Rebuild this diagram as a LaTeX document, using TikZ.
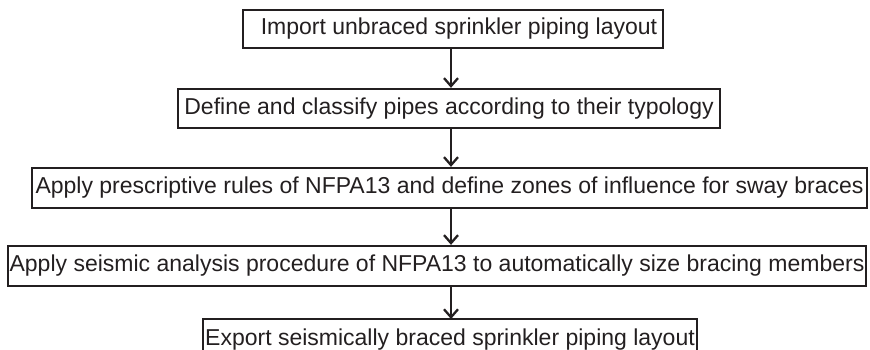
\documentclass[tikz,border=0pt]{standalone}
\usepackage{fontspec}
\setmainfont{Liberation Sans}
\usetikzlibrary{arrows.meta}
\definecolor{ink}{HTML}{231F20}
\begin{document}
\begin{tikzpicture}[x=1pt,y=-1pt,
  stepbox/.style={draw=ink,line width=2.3pt,rectangle,inner sep=0pt,text=ink,
    font=\fontsize{23}{27}\selectfont},
  flow/.style={draw=ink,line width=2.3pt,-{Straight Barb[length=8pt,width=14pt,line width=2.3pt]}}]
\clip (0,0) rectangle (870,350);
\node[stepbox,minimum width=420pt,minimum height=38pt] (b1) at (453,29) {\hspace{12pt}Import unbraced sprinkler piping layout};
\node[stepbox,minimum width=542pt,minimum height=39pt] (b2) at (449,108.5) {Define and classify pipes according to their typology};
\node[stepbox,minimum width=835pt,minimum height=40pt] (b3) at (449.5,188) {Apply prescriptive rules of NFPA13 and define zones of influence for sway braces};
\node[stepbox,minimum width=858pt,minimum height=40pt] (b4) at (437,266) {Apply seismic analysis procedure of NFPA13 to automatically size bracing members};
\node[stepbox,minimum width=494pt,minimum height=42pt] (b5) at (450,340) {Export seismically braced sprinkler piping layout};
\coordinate (c5) at (451,319);
\draw[flow] (b1.south -| 451,0) -- (b2.north -| 451,0);
\draw[flow] (b2.south -| 451,0) -- (b3.north -| 451,0);
\draw[flow] (b3.south -| 451,0) -- (b4.north -| 451,0);
\draw[flow] (b4.south -| 451,0) -- (c5);
\end{tikzpicture}
\end{document}
